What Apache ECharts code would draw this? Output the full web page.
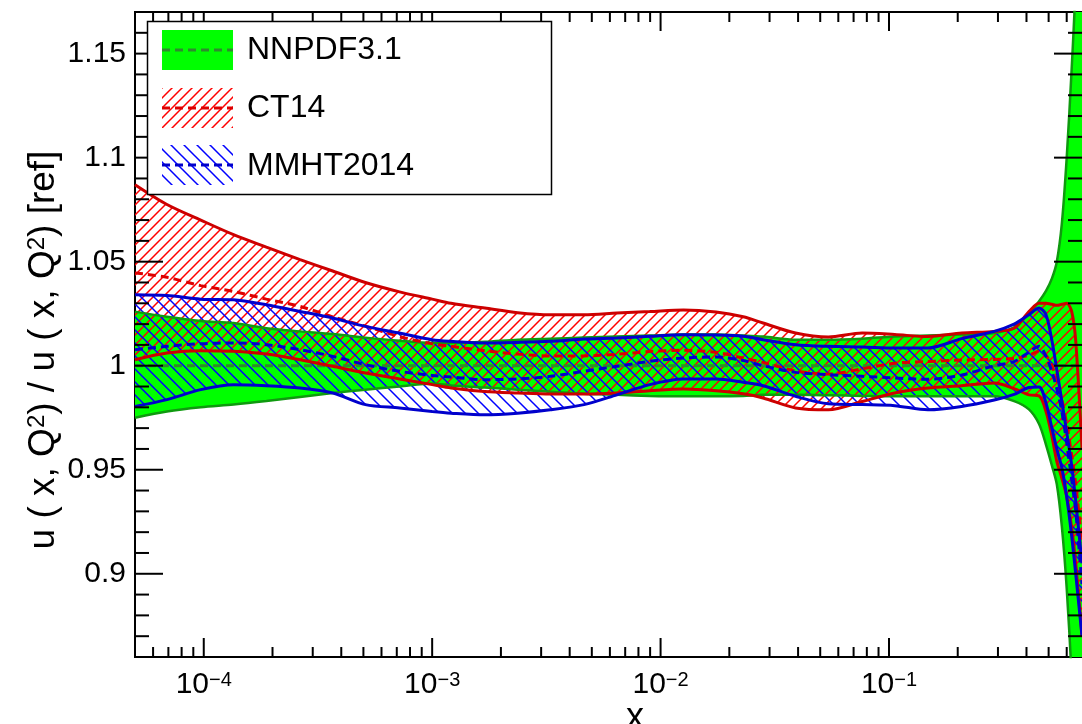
<!DOCTYPE html>
<html>
<head>
<meta charset="utf-8">
<script src="https://cdn.jsdelivr.net/npm/echarts@6/dist/echarts.min.js"></script>
<style>
  html, body { margin: 0; padding: 0; background: #fff; }
  #chart { width: 1082px; height: 724px; }
</style>
</head>
<body>
<div id="chart"></div>
<script>
const xGrid = [5e-5, 6.9e-5, 9.7e-5, 1.35e-4, 1.88e-4, 2.64e-4, 3.67e-4, 5.1e-4, 7.2e-4, 1e-3,
  1.21e-3, 1.7e-3, 2.37e-3, 3.29e-3, 4.62e-3, 6.44e-3, 8.96e-3, 0.0126, 0.0175, 0.023,
  0.0281, 0.039, 0.0543, 0.0763, 0.106, 0.148, 0.208, 0.289, 0.353, 0.41,
  0.454, 0.487, 0.517, 0.543, 0.571, 0.6, 0.631, 0.657, 0.7];

// NNPDF3.1 (reference, ratio = 1)
const nnpdfMid = [1, 1, 1, 1, 1, 1, 1, 1, 1, 1, 1, 1, 1, 1, 1, 1, 1, 1, 1, 1,
  1, 1, 1, 1, 1, 1, 1, 1, 1, 1, 1, 1, 1, 1, 1, 1, 1, 1, 1];
const nnpdfUp = [1.026, 1.0235, 1.0215, 1.0205, 1.018, 1.0165, 1.0152, 1.0135, 1.012, 1.011,
  1.011, 1.0115, 1.0125, 1.013, 1.0135, 1.014, 1.0145, 1.015, 1.015, 1.0145,
  1.014, 1.0125, 1.0125, 1.013, 1.014, 1.0145, 1.015, 1.0157, 1.0185, 1.025,
  1.031, 1.036, 1.042, 1.05, 1.068, 1.1, 1.143, 1.185, 1.3];
const nnpdfLo = [0.975, 0.978, 0.98, 0.9813, 0.983, 0.985, 0.9869, 0.9885, 0.99, 0.9915,
  0.9905, 0.9895, 0.9885, 0.9875, 0.9865, 0.986, 0.9855, 0.9853, 0.9853, 0.9855,
  0.986, 0.986, 0.9858, 0.9855, 0.9853, 0.9853, 0.9853, 0.9853, 0.983, 0.979,
  0.972, 0.962, 0.952, 0.943, 0.923, 0.893, 0.85, 0.8, 0.7];

// CT14
const ctUp = [1.087, 1.0775, 1.07, 1.063, 1.057, 1.051, 1.0455, 1.04, 1.0355, 1.032,
  1.03, 1.0277, 1.0255, 1.0245, 1.0245, 1.0253, 1.026, 1.0268, 1.0258, 1.0235,
  1.0205, 1.0157, 1.0138, 1.0157, 1.015, 1.014, 1.0157, 1.0165, 1.018, 1.026,
  1.03, 1.03, 1.0295, 1.029, 1.0295, 1.03, 1.026, 1.012, 0.96];
const ctMid = [1.0446, 1.0425, 1.0385, 1.0357, 1.032, 1.0285, 1.0235, 1.019, 1.014, 1.0105,
  1.0093, 1.0072, 1.0056, 1.0047, 1.0047, 1.0055, 1.0068, 1.0074, 1.0064, 1.0037,
  1.0016, 0.9975, 0.996, 0.9985, 1.0012, 1.002, 1.0027, 1.003, 1.0035, 1.005,
  1.007, 1.005, 1.0, 0.993, 0.984, 0.972, 0.957, 0.943, 0.915];
const ctLo = [1.0029, 1.0061, 1.0072, 1.0069, 1.0056, 1.0029, 0.9997, 0.9965, 0.9936, 0.9909,
  0.9893, 0.9876, 0.9869, 0.9864, 0.9864, 0.9869, 0.988, 0.9888, 0.988, 0.9865,
  0.9845, 0.9797, 0.9788, 0.9828, 0.9869, 0.9893, 0.9904, 0.9917, 0.989, 0.986,
  0.9855, 0.978, 0.966, 0.954, 0.946, 0.937, 0.922, 0.905, 0.87];

// MMHT2014
const mmUp = [1.0341, 1.0337, 1.032, 1.0317, 1.0293, 1.0261, 1.0229, 1.0189, 1.0157, 1.0125,
  1.0117, 1.0109, 1.0112, 1.0117, 1.0128, 1.0133, 1.0141, 1.0149, 1.0148, 1.0142,
  1.0125, 1.0101, 1.0093, 1.009, 1.0085, 1.0085, 1.013, 1.0165, 1.02, 1.0245,
  1.0277, 1.0245, 1.012, 0.998, 0.983, 0.968, 0.952, 0.935, 0.905];
const mmMid = [1.0077, 1.0093, 1.0106, 1.0109, 1.0101, 1.0077, 1.0045, 1.0005, 0.9973, 0.9953,
  0.9946, 0.9933, 0.9936, 0.9949, 0.9973, 0.9997, 1.0021, 1.0037, 1.0042, 1.0025,
  1.0, 0.9968, 0.9957, 0.9949, 0.9941, 0.9935, 0.9955, 1.0, 1.002, 1.0065,
  1.0093, 1.0045, 0.997, 0.989, 0.978, 0.963, 0.945, 0.93, 0.895];
const mmLo = [0.9804, 0.9837, 0.9885, 0.9909, 0.9904, 0.9893, 0.9869, 0.9813, 0.9797, 0.978,
  0.9772, 0.9764, 0.9772, 0.9788, 0.9813, 0.986, 0.9909, 0.9936, 0.9936, 0.992,
  0.9904, 0.9853, 0.9817, 0.9813, 0.9808, 0.9788, 0.9804, 0.9835, 0.9862, 0.9895,
  0.9898, 0.982, 0.97, 0.96, 0.951, 0.937, 0.918, 0.9, 0.87];

// axis ticks and labels
const xMajor = [1e-4, 1e-3, 1e-2, 1e-1];
const xMajorExp = ['\u22124', '\u22123', '\u22122', '\u22121'];
const yMajor = [0.9, 0.95, 1, 1.05, 1.1, 1.15];

const xMinor = [];
for (let d = -5; d <= -1; d++) {
  for (let k = 2; k <= 9; k++) {
    const v = k * Math.pow(10, d);
    if (v > 5e-5 && v < 0.7) xMinor.push(v);
  }
}
const yMinor = [];
for (let i = 87; i <= 116; i++) {
  if (i % 5 !== 0) yMinor.push(i / 100);
}

const FONT = 'Liberation Sans, Arial, Helvetica, sans-serif';

// diagonal hatch tile, lines about 1.5px thick
function hatch(color, step, rising) {
  const c = document.createElement('canvas');
  c.width = c.height = step;
  const g = c.getContext('2d');
  g.strokeStyle = color;
  g.lineWidth = 1.5;
  g.lineCap = 'square';
  g.beginPath();
  for (const o of [-step, 0, step]) {
    if (rising) { g.moveTo(o, step); g.lineTo(o + step, 0); }
    else { g.moveTo(o, 0); g.lineTo(o + step, step); }
  }
  g.stroke();
  return {image: c, repeat: 'repeat'};
}
const redHatch = hatch('#ff0000', 10, true);
const blueHatch = hatch('#0000ff', 13, false);

const pts = (vals) => xGrid.map((x, i) => [x, vals[i]]);

// filled band between two curves, drawn through the axes with api.coord
function band(lo, up, fill) {
  return {
    type: 'custom', coordinateSystem: 'cartesian2d', silent: true, clip: true,
    data: [[xGrid[0], lo[0]]],
    renderItem(params, api) {
      const top = xGrid.map((x, i) => api.coord([x, up[i]]));
      const bot = xGrid.map((x, i) => api.coord([x, lo[i]])).reverse();
      return {type: 'polygon', shape: {points: top.concat(bot)}, style: {fill: fill}};
    }
  };
}

function curve(vals, color, width, dashed) {
  return {type: 'line', data: pts(vals), symbol: 'none', smooth: 0.3, silent: true,
    lineStyle: {color: color, width: width, type: dashed ? [8, 5] : 'solid'}};
}

const chart = echarts.init(document.getElementById('chart'));

chart.setOption({
  animation: false,
  backgroundColor: '#fff',
  grid: {left: 135, top: 12, width: 953, height: 645, show: true,
    borderColor: '#000', borderWidth: 2, backgroundColor: 'transparent'},
  xAxis: {
    type: 'log', logBase: 10, min: 5e-5, max: 0.7,
    axisLine: {lineStyle: {color: '#000', width: 2}},
    axisTick: {show: false},
    axisLabel: {show: false},
    splitLine: {show: false}
  },
  yAxis: {
    type: 'value', min: 0.86, max: 1.17,
    axisLine: {show: true, lineStyle: {color: '#000', width: 2}},
    axisTick: {show: false},
    splitLine: {show: false},
    axisLabel: {
      customValues: yMajor, margin: 9, fontSize: 30, color: '#000', fontFamily: FONT,
      formatter: (v) => String(+(+v).toFixed(2))
    }
  },
  series: [
    band(nnpdfLo, nnpdfUp, '#00ff00'),
    curve(nnpdfMid, '#2e8b2e', 3, true),
    curve(nnpdfUp, '#0f9a0f', 2.5, false),
    curve(nnpdfLo, '#0f9a0f', 2.5, false),
    band(ctLo, ctUp, redHatch),
    band(mmLo, mmUp, blueHatch),
    curve(ctUp, '#cc0000', 3, false),
    curve(ctLo, '#cc0000', 3, false),
    curve(ctMid, '#dd0000', 3, true),
    curve(mmUp, '#0000cc', 3, false),
    curve(mmLo, '#0000cc', 3, false),
    curve(mmMid, '#0000cc', 3, true),
    {
      type: 'custom', coordinateSystem: 'cartesian2d', silent: true, z: 10,
      data: xMajor.map((v, i) => [v, 1, 1, i]).concat(xMinor.map(v => [v, 1, 0, -1])),
      renderItem(params, api) {
        const major = api.value(2);
        const px = api.coord([api.value(0), 1])[0];
        const cs = params.coordSys;
        const bottom = cs.y + cs.height;
        const L = major ? 19 : 10;
        const children = [
          {type: 'line', shape: {x1: px, y1: bottom, x2: px, y2: bottom - L}, style: {stroke: '#000', lineWidth: 2}},
          {type: 'line', shape: {x1: px, y1: cs.y, x2: px, y2: cs.y + L}, style: {stroke: '#000', lineWidth: 2}}
        ];
        if (major) {
          children.push({
            type: 'text', x: px, y: bottom + 13,
            style: {
              text: '{b|10}{s|' + xMajorExp[api.value(3)] + '}',
              align: 'center', verticalAlign: 'top',
              rich: {
                b: {fontSize: 30, lineHeight: 30, fontFamily: FONT, fill: '#000', verticalAlign: 'bottom'},
                s: {fontSize: 20, lineHeight: 20, fontFamily: FONT, fill: '#000', verticalAlign: 'top', padding: [0, 0, 13, 0]}
              }
            }
          });
        }
        return {type: 'group', children};
      }
    },
    {
      type: 'custom', coordinateSystem: 'cartesian2d', silent: true, z: 10,
      data: yMajor.map(v => [1e-3, v, 1]).concat(yMinor.map(v => [1e-3, v, 0])),
      renderItem(params, api) {
        const major = api.value(2);
        const py = api.coord([1e-3, api.value(1)])[1];
        const cs = params.coordSys;
        const right = cs.x + cs.width;
        const L = major ? 28 : 14;
        return {type: 'group', children: [
          {type: 'line', shape: {x1: cs.x, y1: py, x2: cs.x + L, y2: py}, style: {stroke: '#000', lineWidth: 2}},
          {type: 'line', shape: {x1: right, y1: py, x2: right - L, y2: py}, style: {stroke: '#000', lineWidth: 2}}
        ]};
      }
    }
  ],
  graphic: [
    {type: 'rect', z: 100, shape: {x: 147.5, y: 21.5, width: 404, height: 173},
      style: {fill: '#fff', stroke: '#000', lineWidth: 1.5}},
    {type: 'rect', z: 101, shape: {x: 162, y: 30, width: 71, height: 40}, style: {fill: '#00ff00'}},
    {type: 'line', z: 102, shape: {x1: 162, y1: 50, x2: 233, y2: 50},
      style: {stroke: '#2e8b2e', lineWidth: 3, lineDash: [8, 5]}},
    {type: 'rect', z: 101, shape: {x: 162, y: 88, width: 71, height: 40}, style: {fill: redHatch}},
    {type: 'line', z: 102, shape: {x1: 162, y1: 108, x2: 233, y2: 108},
      style: {stroke: '#dd0000', lineWidth: 3, lineDash: [8, 5]}},
    {type: 'rect', z: 101, shape: {x: 162, y: 145, width: 71, height: 40}, style: {fill: blueHatch}},
    {type: 'line', z: 102, shape: {x1: 162, y1: 165, x2: 233, y2: 165},
      style: {stroke: '#0000cc', lineWidth: 3, lineDash: [8, 5]}},
    {type: 'text', z: 102, x: 247, y: 50,
      style: {text: 'NNPDF3.1', fontSize: 32, fontFamily: FONT, fill: '#000', verticalAlign: 'middle'}},
    {type: 'text', z: 102, x: 247, y: 108,
      style: {text: 'CT14', fontSize: 32, fontFamily: FONT, fill: '#000', verticalAlign: 'middle'}},
    {type: 'text', z: 102, x: 247, y: 166,
      style: {text: 'MMHT2014', fontSize: 32, fontFamily: FONT, fill: '#000', verticalAlign: 'middle'}},
    {type: 'text', z: 102, x: 44, y: 350, rotation: Math.PI / 2,
      style: {
        text: '{n|u ( x, Q}{s|2}{n|) / u ( x, Q}{s|2}{n|) [ref]}',
        align: 'center', verticalAlign: 'middle',
        rich: {
          n: {fontSize: 37, lineHeight: 37, fontFamily: FONT, fill: '#000', verticalAlign: 'bottom'},
          s: {fontSize: 24, lineHeight: 24, fontFamily: FONT, fill: '#000', verticalAlign: 'top', padding: [0, 0, 18, 0]}
        }
      }},
    {type: 'text', z: 102, x: 635, y: 718,
      style: {text: 'x', fontSize: 36, fontFamily: FONT, fill: '#000', align: 'center', verticalAlign: 'middle'}}
  ]
});
</script>
</body>
</html>
